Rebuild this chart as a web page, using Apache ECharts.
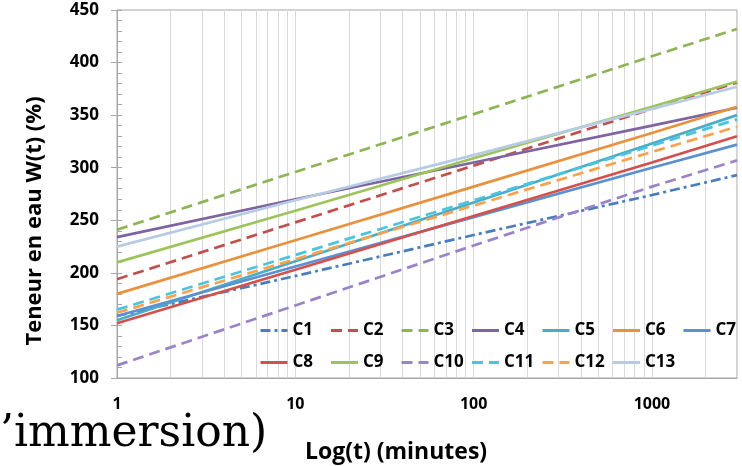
<!DOCTYPE html>
<html>
<head>
<meta charset="utf-8">
<script src="https://cdn.jsdelivr.net/npm/echarts@6/dist/echarts.min.js"></script>
<style>
  html, body { margin: 0; padding: 0; background: #fff; }
  #chart { width: 742px; height: 466px; }
</style>
</head>
<body>
<div id="chart"></div>
<script>
// temps (minutes) auxquels les courbes sont lues
var temps = [1, 10, 100, 1000, 3000];

// teneur en eau W(t) (%) de chaque courbe
var C1 = [159, 197, 236, 274, 293];
var C2 = [194, 248, 302, 356, 381];
var C3 = [241, 296, 351, 406, 432];
var C4 = [234, 270, 305, 340, 357];
var C5 = [155, 211, 267, 323, 350];
var C6 = [180, 231, 282, 333, 358];
var C7 = [159, 206, 253, 300, 322];
var C8 = [152, 203, 254, 305, 330];
var C9 = [210, 259, 309, 358, 382];
var C10 = [112, 169, 226, 282, 307];
var C11 = [165, 217, 269, 321, 346];
var C12 = [162, 213, 264, 315, 339];
var C13 = [225, 269, 312, 356, 377];

// graduations secondaires de l'axe log
var ticksMineurs = [2, 3, 4, 5, 6, 7, 8, 9, 20, 30, 40, 50, 60, 70, 80, 90,
                    200, 300, 400, 500, 600, 700, 800, 900, 2000];

var courbes = [
    {nom: 'C1', val: C1, couleur: '#4a7ebb', trait: [10, 4, 3, 4]},
    {nom: 'C2', val: C2, couleur: '#c0504d', trait: [11, 6]},
    {nom: 'C3', val: C3, couleur: '#8fb456', trait: [11, 6]},
    {nom: 'C4', val: C4, couleur: '#7f64a2', trait: 'solid'},
    {nom: 'C5', val: C5, couleur: '#4bacc6', trait: 'solid'},
    {nom: 'C6', val: C6, couleur: '#e8923f', trait: 'solid'},
    {nom: 'C7', val: C7, couleur: '#5b91d2', trait: 'solid'},
    {nom: 'C8', val: C8, couleur: '#d4504c', trait: 'solid'},
    {nom: 'C9', val: C9, couleur: '#9dc45c', trait: 'solid'},
    {nom: 'C10', val: C10, couleur: '#9a83c9', trait: [11, 6]},
    {nom: 'C11', val: C11, couleur: '#4cc3df', trait: [11, 6]},
    {nom: 'C12', val: C12, couleur: '#fba24f', trait: [11, 6]},
    {nom: 'C13', val: C13, couleur: '#b7cbe3', trait: 'solid'}
];

var police = '"Open Sans", Lato, sans-serif';

var series = courbes.map(function (c) {
    return {
        name: c.nom,
        type: 'line',
        z: 3,
        symbol: 'none',
        color: c.couleur,
        lineStyle: {width: 2.7, type: c.trait, color: c.couleur},
        emphasis: {disabled: true},
        data: temps.map(function (t, i) { return [t, c.val[i]]; })
    };
});

// lignes verticales secondaires
series.push({
    name: 'grille',
    type: 'line',
    z: 1,
    data: [],
    markLine: {
        z: 1,
        silent: true,
        animation: false,
        symbol: ['none', 'none'],
        label: {show: false},
        lineStyle: {color: '#d9d9d9', type: 'solid', width: 1},
        data: ticksMineurs.map(function (v) { return {xAxis: v}; })
    }
});

// légende en deux rangées de colonnes régulières (7 puis 6)
var legendes = courbes.map(function (c, i) {
    var col = i < 7 ? i : i - 7;
    return {
        data: [c.nom],
        left: 259 + col * 70.5,
        top: i < 7 ? 322 : 354,
        padding: 0,
        itemWidth: 27,
        itemHeight: 14,
        itemStyle: {opacity: 0},
        lineStyle: {width: 3},
        textStyle: {fontFamily: police, fontWeight: 'bold', fontSize: 17, color: '#000'}
    };
});

var chart = echarts.init(document.getElementById('chart'));
chart.setOption({
    animation: false,
    backgroundColor: '#fff',
    grid: {left: 117, right: 5, top: 10, bottom: 88, show: true, borderColor: '#a6a6a6', borderWidth: 1,
           outerBoundsMode: 'none'},
    legend: legendes,
    xAxis: {
        type: 'log',
        logBase: 10,
        min: 1,
        max: 3000,
        name: 'Log(t) (minutes)',
        nameLocation: 'middle',
        nameGap: 63,
        nameTextStyle: {fontFamily: police, fontWeight: 'bold', fontSize: 23, color: '#000', padding: [0, 62, 0, 0]},
        axisLine: {lineStyle: {color: '#a6a6a6'}},
        axisTick: {show: false},
        axisLabel: {fontFamily: police, fontWeight: 'bold', fontSize: 16, color: '#000', margin: 18,
                    showMaxLabel: false, formatter: function (v) { return String(v); }},
        splitLine: {show: true, lineStyle: {color: '#d9d9d9'}}
    },
    yAxis: [{
        type: 'value',
        min: 100,
        max: 450,
        interval: 50,
        axisLine: {show: true, lineStyle: {color: '#a6a6a6'}},
        axisTick: {show: true, inside: true, length: 5, lineStyle: {color: '#a6a6a6'}},
        minorTick: {show: true, splitNumber: 5, length: 5, lineStyle: {color: '#a6a6a6'}},
        axisLabel: {fontFamily: police, fontWeight: 'bold', fontSize: 17, color: '#000', margin: 18},
        splitLine: {show: false}
    }, {
        type: 'value',
        position: 'left',
        min: 100,
        max: 450,
        interval: 50,
        axisLine: {show: false},
        axisTick: {show: true, length: 6, lineStyle: {color: '#a6a6a6'}},
        axisLabel: {show: false},
        splitLine: {show: false}
    }],
    graphic: [{
        // titre de l'axe vertical
        type: 'text',
        x: 35,
        y: 221,
        rotation: Math.PI / 2,
        silent: true,
        style: {text: 'Teneur en eau W(t) (%)', fontFamily: police, fontWeight: 'bold', fontSize: 22,
                fill: '#000', align: 'center', verticalAlign: 'middle'}
    }, {
        type: 'text',
        left: 0,
        top: 413,
        silent: true,
        style: {text: '\u2019immersion)', font: '44px "DejaVu Serif", serif', fill: '#000'}
    }],
    series: series
});
</script>
</body>
</html>
